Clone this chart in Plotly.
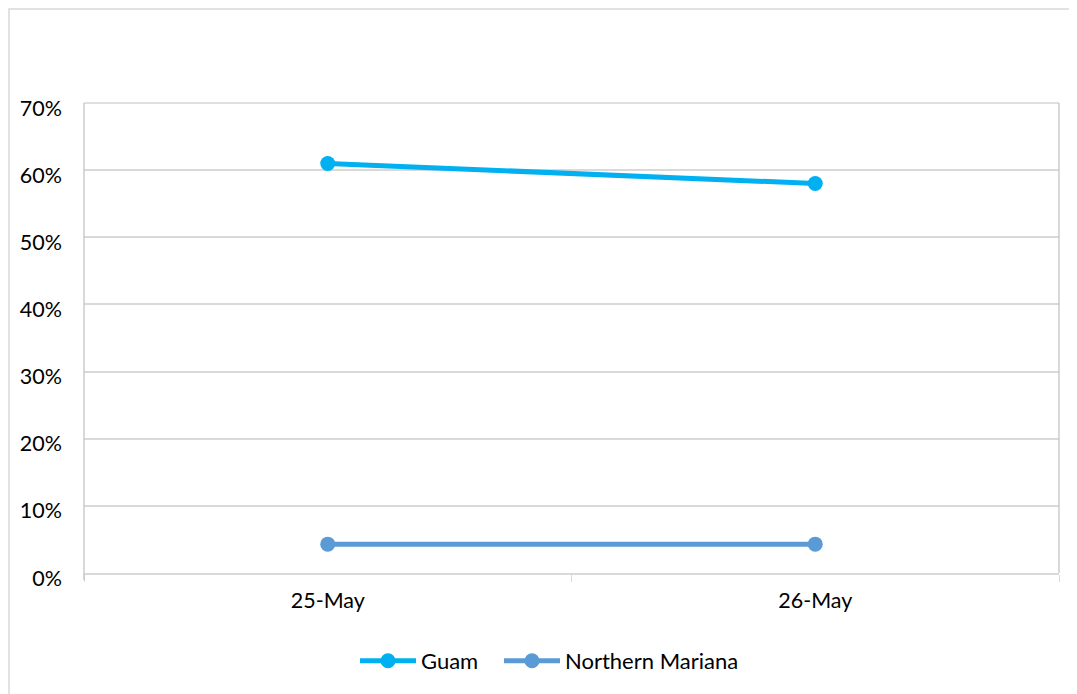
import plotly.graph_objects as go

categories = ["25-May", "26-May"]
guam = [0.610, 0.580]
northern_mariana = [0.043, 0.043]
y_ticks = [0, 0.1, 0.2, 0.3, 0.4, 0.5, 0.6, 0.7]
y_tick_labels = ["0%", "10%", "20%", "30%", "40%", "50%", "60%", "70%"]

FONT = "Lato"
FS = 21.5

fig = go.Figure()
fig.add_trace(go.Scatter(
    x=categories, y=guam, name="Guam", mode="lines+markers",
    line=dict(color="#00B0F0", width=5),
    marker=dict(color="#00B0F0", size=15),
    legend="legend",
))
fig.add_trace(go.Scatter(
    x=categories, y=northern_mariana, name="Northern Mariana", mode="lines+markers",
    line=dict(color="#5B9BD5", width=5),
    marker=dict(color="#5B9BD5", size=15),
    legend="legend2",
))

# reference-pixel geometry (page has an 8px body margin)
OFF = 8
L, R, T, B = 84, 1059, 103, 573
W, H = 1077 - OFF, 694 - OFF
pw, ph = R - L, B - T

def px_x(p):
    return (p - L) / pw

def px_y(p):
    return (B - p) / ph

# outer chart border (drawn at the figure's edge)
fig.add_shape(type="rect", xref="paper", yref="paper",
              x0=px_x(OFF + 1), x1=px_x(1100), y0=px_y(720), y1=px_y(OFF + 1),
              line=dict(color="#D9D9D9", width=1.5), layer="below")
# plot-area border (top, left, right)
for x0, y0, x1, y1 in [(0, 1, 1, 1), (0, px_y(580), 0, 1), (1, 0, 1, 1)]:
    fig.add_shape(type="line", xref="paper", yref="paper",
                  x0=x0, y0=y0, x1=x1, y1=y1,
                  line=dict(color="#BFBFBF", width=1.2))

legend_common = dict(orientation="h", xanchor="left", y=px_y(661), yanchor="middle",
                     font=dict(family=FONT, size=22), itemwidth=56, tracegroupgap=0)

fig.update_layout(
    width=W, height=H,
    margin=dict(l=L - OFF, r=W - (R - OFF), t=T - OFF, b=H - (B - OFF)),
    paper_bgcolor="white", plot_bgcolor="white",
    font=dict(family=FONT, size=FS, color="#000000"),
    showlegend=True,
    legend=dict(x=px_x(355), **legend_common),
    legend2=dict(x=px_x(499), **legend_common),
    xaxis=dict(type="category", range=[-0.5, 1.5], showgrid=False,
               showline=True, linecolor="#D9D9D9", linewidth=1.5,
               ticks="outside", tickson="boundaries", ticklen=7,
               tickcolor="#D9D9D9", tickwidth=1.2, ticklabelstandoff=7,
               tickfont=dict(family=FONT, size=FS), fixedrange=True),
    yaxis=dict(range=[0, 0.7], tickvals=y_ticks, ticktext=y_tick_labels,
               showgrid=True, gridcolor="#D9D9D9", gridwidth=1.5,
               zeroline=False, showline=False, ticks="", ticklabelstandoff=21,
               ticklabelshift=5,
               tickfont=dict(family=FONT, size=FS)),
)

fig.write_html("out.html")
